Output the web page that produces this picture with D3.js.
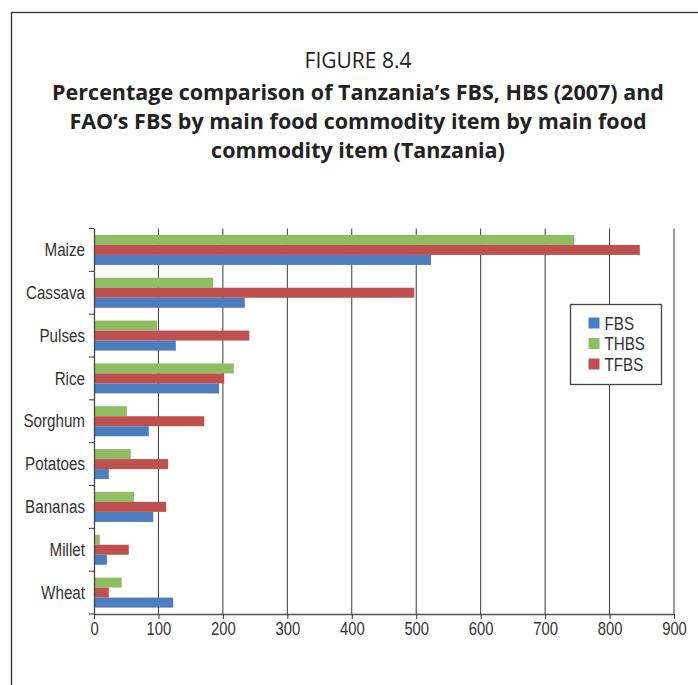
<!DOCTYPE html>
<html>
<head>
<meta charset="utf-8">
<script src="https://cdn.jsdelivr.net/npm/d3@7"></script>
<style>
  html, body { margin: 0; padding: 0; background: #fff; }
  svg { display: block; }
</style>
</head>
<body>
<svg id="chart" width="698" height="685"></svg>
<script>
const categories = ["Maize", "Cassava", "Pulses", "Rice", "Sorghum", "Potatoes", "Bananas", "Millet", "Wheat"];
const seriesNames = ["THBS", "TFBS", "FBS"];        // order of bars inside each group (top to bottom)
const legendNames = ["FBS", "THBS", "TFBS"];
const FBS  = [523, 234, 127, 194, 85, 23, 92, 20, 123];
const THBS = [745, 185, 98, 217, 51, 57, 62, 9, 43];
const TFBS = [847, 497, 241, 202, 171, 115, 112, 54, 23];
const xTicks = [0, 100, 200, 300, 400, 500, 600, 700, 800, 900];
const titleLines = [
  "Percentage comparison of Tanzania\u2019s FBS, HBS (2007) and",
  "FAO\u2019s FBS by main food commodity item by main food",
  "commodity item (Tanzania)"
];
const figureLabel = "FIGURE 8.4";

const colors = { FBS: "#4a7ebf", THBS: "#8fbd63", TFBS: "#c0504d" };
const values = { FBS, THBS, TFBS };

const FONT = "'Liberation Sans', Arial, sans-serif";
const SX = 0.8; // horizontal condensing of the label font

const svg = d3.select("#chart");

// outer frame (extends beyond the viewport on the right and bottom)
svg.append("rect")
  .attr("x", 11.5).attr("y", 12.5)
  .attr("width", 720).attr("height", 720)
  .attr("fill", "none").attr("stroke", "#333").attr("stroke-width", 1.3);

// titles
svg.append("text")
  .attr("x", 358).attr("y", 68)
  .attr("text-anchor", "middle")
  .attr("font-family", "'Open Sans', sans-serif")
  .attr("font-size", 21)
  .attr("fill", "#222")
  .text(figureLabel);

svg.append("g").selectAll("text").data(titleLines).join("text")
  .attr("x", 358)
  .attr("y", (d, i) => 100 + i * 29)
  .attr("text-anchor", "middle")
  .attr("font-family", "'Open Sans', sans-serif")
  .attr("font-weight", "bold")
  .attr("font-size", 21.5)
  .attr("fill", "#222")
  .text(d => d);

// scales
const x = d3.scaleLinear().domain([0, 900]).range([94, 674]);
const y = d3.scaleBand().domain(categories).range([228.5, 614]).paddingInner(0).paddingOuter(0);
const yInner = d3.scaleBand().domain(seriesNames).range([0, y.bandwidth()]).paddingInner(0).paddingOuter(0.64);

// gridlines
svg.append("g").selectAll("line").data(xTicks.filter(d => d > 0)).join("line")
  .attr("x1", d => x(d)).attr("x2", d => x(d))
  .attr("y1", y.range()[0]).attr("y2", y.range()[1])
  .attr("stroke", "#3a3a3a").attr("stroke-width", 1);

// bars
const groups = svg.append("g").selectAll("g").data(categories).join("g")
  .attr("transform", d => `translate(0,${y(d)})`);

groups.selectAll("rect")
  .data((c, i) => seriesNames.map(s => ({ s, v: values[s][i] })))
  .join("rect")
  .attr("x", x(0))
  .attr("y", d => yInner(d.s))
  .attr("width", d => x(d.v) - x(0))
  .attr("height", yInner.bandwidth())
  .attr("fill", d => colors[d.s]);

// x axis
const xAxis = svg.append("g")
  .attr("transform", `translate(0,${y.range()[1]})`)
  .call(d3.axisBottom(x).tickValues(xTicks).tickSize(5).tickPadding(3).tickSizeOuter(0));
xAxis.select(".domain").attr("stroke", "#555").attr("stroke-width", 1.3);
xAxis.selectAll(".tick line").attr("stroke", "#333");
xAxis.selectAll(".tick text")
  .attr("font-size", 18.5).attr("fill", "#333").attr("font-family", FONT)
  .attr("transform", `scale(${SX},1)`);

// y axis (labels)
const yAxis = svg.append("g")
  .attr("transform", `translate(${x(0)},0)`)
  .call(d3.axisLeft(y).tickSize(0).tickPadding(9));
yAxis.select(".domain").attr("stroke", "#444").attr("stroke-width", 1.3);
yAxis.selectAll(".tick text")
  .attr("font-size", 19).attr("fill", "#333").attr("font-family", FONT)
  .attr("x", -9 / SX)
  .attr("transform", `scale(${SX},1)`);

// y boundary ticks
const bounds = categories.map(c => y(c)).concat([y.range()[1]]);
svg.append("g").selectAll("line").data(bounds).join("line")
  .attr("x1", x(0) - 5).attr("x2", x(0))
  .attr("y1", d => d).attr("y2", d => d)
  .attr("stroke", "#333").attr("stroke-width", 1);

// legend
const lg = svg.append("g").attr("transform", "translate(570.5,304.5)");
lg.append("rect").attr("width", 91).attr("height", 80)
  .attr("fill", "#fff").attr("stroke", "#444").attr("stroke-width", 1.3);
const li = lg.selectAll("g").data(legendNames).join("g")
  .attr("transform", (d, i) => `translate(18,${13 + i * 20.5})`);
li.append("rect").attr("width", 11).attr("height", 11).attr("fill", d => colors[d]);
li.append("text")
  .attr("x", 16 / SX).attr("y", 12)
  .attr("transform", `scale(${SX},1)`)
  .attr("font-size", 19).attr("fill", "#333").attr("font-family", FONT)
  .text(d => d);
</script>
</body>
</html>
